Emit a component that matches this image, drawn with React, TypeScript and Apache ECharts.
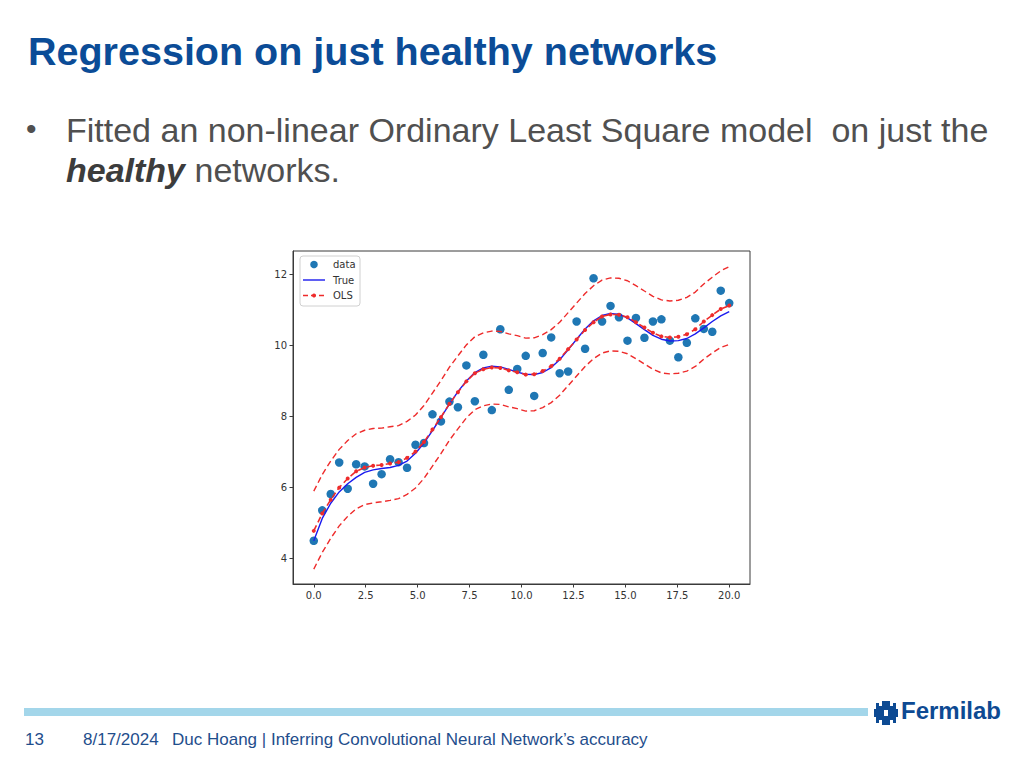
import React, { useEffect, useRef } from "react";
import * as echarts from "echarts";

// x positions of the samples (0 .. 20, 50 samples)
const xs = [0, 0.408, 0.816, 1.224, 1.633, 2.041, 2.449, 2.857, 3.265, 3.673, 4.082, 4.49, 4.898, 5.306, 5.714, 6.122, 6.531, 6.939, 7.347, 7.755, 8.163, 8.571, 8.98, 9.388, 9.796, 10.204, 10.612, 11.02, 11.429, 11.837, 12.245, 12.653, 13.061, 13.469, 13.878, 14.286, 14.694, 15.102, 15.51, 15.918, 16.327, 16.735, 17.143, 17.551, 17.959, 18.367, 18.776, 19.184, 19.592, 20];

// observed data
const dataY = [4.49, 5.35, 5.81, 6.7, 5.96, 6.65, 6.59, 6.1, 6.37, 6.79, 6.71, 6.55, 7.2, 7.25, 8.06, 7.86, 8.42, 8.26, 9.44, 8.43, 9.74, 8.18, 10.46, 8.75, 9.34, 9.71, 8.58, 9.79, 10.23, 9.22, 9.27, 10.68, 9.91, 11.9, 10.68, 11.12, 10.8, 10.14, 10.78, 10.22, 10.68, 10.74, 10.14, 9.67, 10.08, 10.77, 10.47, 10.39, 11.55, 11.2];

// true curve
const trueY = [4.49, 5.12, 5.55, 5.87, 6.1, 6.28, 6.42, 6.49, 6.53, 6.56, 6.62, 6.74, 6.96, 7.25, 7.6, 7.97, 8.35, 8.7, 9.0, 9.24, 9.37, 9.42, 9.4, 9.33, 9.25, 9.19, 9.18, 9.24, 9.38, 9.6, 9.88, 10.18, 10.47, 10.7, 10.85, 10.91, 10.88, 10.78, 10.62, 10.45, 10.29, 10.18, 10.13, 10.14, 10.2, 10.33, 10.5, 10.68, 10.84, 10.96];

// OLS fitted values
const olsY = [4.77, 5.26, 5.65, 5.99, 6.25, 6.45, 6.56, 6.61, 6.63, 6.67, 6.71, 6.83, 7.01, 7.28, 7.63, 7.98, 8.36, 8.68, 8.99, 9.22, 9.33, 9.38, 9.37, 9.3, 9.25, 9.18, 9.19, 9.28, 9.42, 9.63, 9.9, 10.17, 10.44, 10.66, 10.82, 10.88, 10.87, 10.8, 10.66, 10.51, 10.36, 10.26, 10.23, 10.25, 10.32, 10.46, 10.68, 10.86, 11.03, 11.13];

// prediction interval bounds
const upperY = [5.89, 6.36, 6.74, 7.07, 7.32, 7.51, 7.61, 7.66, 7.67, 7.71, 7.74, 7.86, 8.04, 8.31, 8.66, 9.01, 9.39, 9.71, 10.02, 10.25, 10.36, 10.41, 10.4, 10.33, 10.28, 10.21, 10.22, 10.31, 10.45, 10.66, 10.93, 11.2, 11.47, 11.69, 11.85, 11.91, 11.9, 11.83, 11.69, 11.54, 11.39, 11.29, 11.26, 11.28, 11.36, 11.51, 11.74, 11.93, 12.11, 12.23];
const lowerY = [3.69, 4.16, 4.56, 4.91, 5.18, 5.39, 5.51, 5.56, 5.59, 5.63, 5.68, 5.8, 5.98, 6.25, 6.6, 6.95, 7.33, 7.65, 7.96, 8.19, 8.3, 8.35, 8.34, 8.27, 8.22, 8.15, 8.16, 8.25, 8.39, 8.6, 8.87, 9.14, 9.41, 9.63, 9.79, 9.85, 9.84, 9.77, 9.63, 9.48, 9.33, 9.23, 9.2, 9.22, 9.28, 9.41, 9.62, 9.79, 9.95, 10.03];

const xTicks = [0, 2.5, 5, 7.5, 10, 12.5, 15, 17.5, 20];
const yTicks = [4, 6, 8, 10, 12];
const legendNames = ["data", "True", "OLS"];

const titleText = "Regression on just healthy networks";
const bulletLine1 = "Fitted an non-linear Ordinary Least Square model  on just the";
const bulletBold = "healthy";
const bulletRest = " networks.";
const footerPage = "13";
const footerDate = "8/17/2024";
const footerInfo = "Duc Hoang | Inferring Convolutional Neural Network\u2019s accuracy";

const pairs = (ys: number[]) => xs.map((x, i) => [x, ys[i]]);

let registered = false;
function registerLogo() {
  if (registered) return;
  registered = true;
  const d =
    "M8 0 H16 V5 H19 V2 H22 V8 H24 V16 H22 V22 H19 V19 H16 V24 H8 V19 H5 V22 H2 V16 H0 V8 H2 V2 H5 V5 H8 Z M10 9 V15 H14 V9 Z";
  echarts.graphic.registerShape("fermilogo", echarts.graphic.extendPath(d, {}) as any);
}

export default function App() {
  const ref = useRef<HTMLDivElement>(null);
  useEffect(() => {
    if (!ref.current) return;
    registerLogo();
    const chart = echarts.init(ref.current, null, { renderer: "svg" });
    const red = "#ee2b2b";
    const blue = "#1a1aee";
    const dotBlue = "#1f77b4";
    const dash = [6, 3.5];
    const font = "'Liberation Sans', Arial, Helvetica, sans-serif";
    const mpl = "'DejaVu Sans', sans-serif";
    const lx = 300;
    const ly = 256;
    chart.setOption({
      animation: false,
      backgroundColor: "#ffffff",
      grid: {
        left: 293,
        top: 251,
        width: 457,
        height: 333,
        show: true,
        borderColor: "#3a3a3a",
        borderWidth: 1,
        backgroundColor: "#ffffff",
      },
      xAxis: {
        type: "value",
        min: -1,
        max: 21,
        splitLine: { show: false },
        axisLine: { show: true, onZero: false, lineStyle: { color: "#3a3a3a", width: 1 } },
        axisTick: { show: true, length: 3.5, customValues: xTicks, lineStyle: { color: "#3a3a3a" } },
        axisLabel: {
          customValues: xTicks,
          formatter: (v: number) => v.toFixed(1),
          color: "#333",
          fontSize: 10,
          fontFamily: mpl,
          margin: 6,
        },
      },
      yAxis: {
        type: "value",
        min: 3.27,
        max: 12.67,
        splitLine: { show: false },
        axisLine: { show: true, onZero: false, lineStyle: { color: "#3a3a3a", width: 1 } },
        axisTick: { show: true, length: 3.5, customValues: yTicks, lineStyle: { color: "#3a3a3a" } },
        axisLabel: {
          customValues: yTicks,
          formatter: (v: number) => String(v),
          color: "#333",
          fontSize: 10,
          fontFamily: mpl,
          margin: 6,
        },
      },
      series: [
        {
          name: "data",
          type: "scatter",
          data: pairs(dataY),
          symbolSize: 8.5,
          itemStyle: { color: dotBlue, opacity: 1 },
          z: 2,
        },
        {
          name: "True",
          type: "line",
          data: pairs(trueY),
          symbol: "none",
          lineStyle: { color: blue, width: 1.4 },
          itemStyle: { color: blue },
          z: 3,
        },
        {
          name: "OLS",
          type: "line",
          data: pairs(olsY),
          symbol: "circle",
          symbolSize: 4,
          showSymbol: true,
          lineStyle: { color: red, width: 1.6, type: dash },
          itemStyle: { color: red },
          z: 4,
        },
        {
          name: "upper",
          type: "line",
          data: pairs(upperY),
          symbol: "none",
          lineStyle: { color: red, width: 1.4, type: dash },
          z: 4,
        },
        {
          name: "lower",
          type: "line",
          data: pairs(lowerY),
          symbol: "none",
          lineStyle: { color: red, width: 1.4, type: dash },
          z: 4,
        },
      ],
      graphic: [
        // legend
        {
          type: "rect",
          z: 100,
          shape: { x: lx, y: ly, width: 60, height: 50, r: 3 },
          style: { fill: "#ffffff", stroke: "#d0d0d0", lineWidth: 1 },
        },
        {
          type: "circle",
          z: 101,
          shape: { cx: lx + 14, cy: ly + 8.5, r: 3.8 },
          style: { fill: dotBlue },
        },
        {
          type: "line",
          z: 101,
          shape: { x1: lx + 3, y1: ly + 24, x2: lx + 25, y2: ly + 24 },
          style: { stroke: blue, lineWidth: 1.4 },
        },
        {
          type: "line",
          z: 101,
          shape: { x1: lx + 3, y1: ly + 39.5, x2: lx + 25, y2: ly + 39.5 },
          style: { stroke: red, lineWidth: 1.6, lineDash: [5, 3] },
        },
        {
          type: "circle",
          z: 101,
          shape: { cx: lx + 14, cy: ly + 39.5, r: 2 },
          style: { fill: red },
        },
        ...legendNames.map((n, i) => ({
          type: "text",
          z: 101,
          x: lx + 33,
          y: ly + 8.5 + i * 15.5,
          style: {
            text: n,
            fontFamily: mpl,
            fontSize: 10,
            fill: "#333",
            verticalAlign: "middle",
          },
        })),
        // slide text
        {
          type: "text",
          left: 28,
          top: 31,
          style: {
            text: titleText,
            fontFamily: font,
            fontWeight: "bold",
            fontSize: 39.5,
            fill: "#0b4c97",
          },
        },
        {
          type: "text",
          left: 26,
          top: 113,
          style: { text: "\u2022", fontFamily: font, fontSize: 30, fill: "#505050" },
        },
        {
          type: "text",
          left: 66,
          top: 113,
          style: { text: bulletLine1, fontFamily: font, fontSize: 34, fill: "#505050" },
        },
        {
          type: "text",
          left: 66,
          top: 153,
          style: {
            text: "{b|" + bulletBold + "}" + bulletRest,
            fontFamily: font,
            fontSize: 34,
            fill: "#505050",
            rich: {
              b: { fontFamily: font, fontSize: 34, fontWeight: "bold", fontStyle: "italic", fill: "#3c3c3c" },
            },
          },
        },
        {
          type: "rect",
          shape: { x: 24, y: 708, width: 844, height: 8 },
          style: { fill: "#a3d6ea" },
        },
        {
          type: "fermilogo",
          x: 874,
          y: 701,
          scaleX: 1,
          scaleY: 1,
          style: { fill: "#0d4a93" },
        },
        {
          type: "text",
          left: 901,
          top: 698,
          style: { text: "Fermilab", fontFamily: font, fontWeight: "bold", fontSize: 24, fill: "#0d4a93" },
        },
        {
          type: "text",
          left: 25,
          top: 731,
          style: { text: footerPage, fontFamily: font, fontSize: 17, fill: "#1f4e8c" },
        },
        {
          type: "text",
          left: 83,
          top: 731,
          style: { text: footerDate, fontFamily: font, fontSize: 17, fill: "#1f4e8c" },
        },
        {
          type: "text",
          left: 172,
          top: 731,
          style: { text: footerInfo, fontFamily: font, fontSize: 17, fill: "#1f4e8c" },
        },
      ],
    });
    return () => chart.dispose();
  }, []);
  return (
    <div
      ref={ref}
      style={{ position: "absolute", left: 0, top: 0, width: 1024, height: 768 }}
    />
  );
}
